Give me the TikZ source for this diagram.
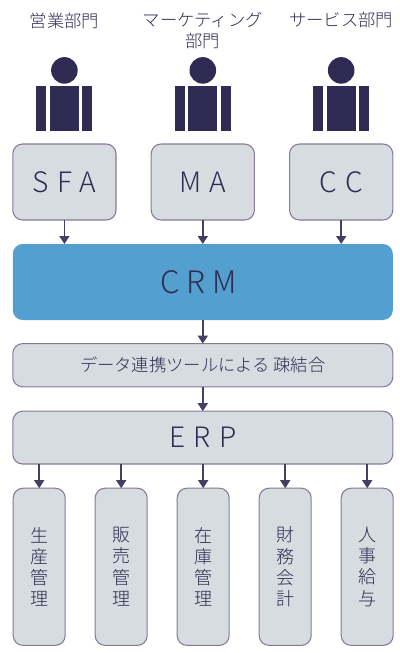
\documentclass[tikz,border=0pt]{standalone}
\usepackage{fontspec}
\usepackage{xcolor}
\usetikzlibrary{arrows.meta,positioning}
\setmainfont{Noto Sans CJK JP Light}
\newfontfamily\widefont[LetterSpace=30]{Noto Sans CJK JP Light}
\newfontfamily\crmfont[LetterSpace=22]{Noto Sans CJK JP Light}
\definecolor{sysink}{RGB}{47,43,82}
\definecolor{sysfill}{RGB}{214,220,224}
\definecolor{sysedge}{RGB}{133,121,154}
\definecolor{crmblue}{RGB}{82,159,208}

\begin{document}
\begin{tikzpicture}[
    sysbox/.style={draw=sysedge, line width=0.75pt, fill=sysfill, rounded corners=7pt, align=center, text=sysink, inner sep=0pt, outer sep=0pt},
    channel/.style={sysbox, minimum width=2.58cm, minimum height=1.9cm, font=\fontsize{20}{24}\widefont},
    wide/.style={sysbox, minimum width=9.5cm},
    module/.style={sysbox, minimum width=1.3cm, minimum height=3.93cm, font=\fontsize{12.8}{15.1}\selectfont},
    dept/.style={align=center, text=sysink, inner sep=0pt, font=\fontsize{12.3}{15}\selectfont},
    head/.style={circle, fill=sysink, minimum size=0.665cm, inner sep=0pt},
    arm/.style={fill=sysink, minimum width=0.25cm, minimum height=1.125cm, inner sep=0pt},
    torso/.style={fill=sysink, minimum width=0.73cm, minimum height=1.125cm, inner sep=0pt},
    flow/.style={-{Triangle[length=2mm, width=2.5mm]}, line width=1.05pt, sysink!90!white},
]
    \useasboundingbox (0,0) rectangle (10,-16.325);

    \node[dept] (salesdept) at (1.61,-0.52) {営業部門};
    \node[dept] (mktdept) at (5.07,-0.77) {マーケティング\\部門};
    \node[dept] (ccdept) at (8.53,-0.5) {サービス部門};

    \node[head] (head1) at (1.61,-1.76) {};
    \node[arm] (larm1) at (1.03,-2.71) {};
    \node[torso] (body1) at (1.61,-2.71) {};
    \node[arm] (rarm1) at (2.18,-2.71) {};
    \node[head] (head2) at (5.07,-1.76) {};
    \node[arm] (larm2) at (4.5,-2.71) {};
    \node[torso] (body2) at (5.07,-2.71) {};
    \node[arm] (rarm2) at (5.65,-2.71) {};
    \node[head] (head3) at (8.53,-1.76) {};
    \node[arm] (larm3) at (7.96,-2.71) {};
    \node[torso] (body3) at (8.53,-2.71) {};
    \node[arm] (rarm3) at (9.11,-2.71) {};

    \node[channel] (sfa) at (1.61,-4.55) {SFA};
    \node[channel] (ma) at (5.07,-4.55) {MA};
    \node[channel] (cc) at (8.53,-4.55) {CC};

    \node[wide, draw=none, fill=crmblue, minimum height=1.9cm, font=\fontsize{22}{26}\crmfont] (crm) at (5.07,-7.05) {CRM\hspace*{0.22cm}};
    \node[wide, minimum height=1.08cm, font=\fontsize{12.3}{15}\selectfont] (link) at (5.07,-9.13) {データ連携ツールによる 疎結合};
    \node[wide, minimum height=1.32cm, font=\fontsize{20}{24}\widefont] (erp) at (5.07,-10.94) {ERP};

    \node[module] (prod) at (0.98,-14.17) {生\\産\\管\\理};
    \node[module] (sale) at (3.03,-14.17) {販\\売\\管\\理};
    \node[module] (stock) at (5.08,-14.17) {在\\庫\\管\\理};
    \node[module] (fin) at (7.13,-14.17) {財\\務\\会\\計};
    \node[module] (hr) at (9.18,-14.17) {人\\事\\給\\与};

    \draw[flow] (sfa) -- (sfa |- crm.north);
    \draw[flow] (ma) -- (ma |- crm.north);
    \draw[flow] (cc) -- (cc |- crm.north);
    \draw[flow] (crm) -- (link);
    \draw[flow] (link) -- (erp);
    \draw[flow] (prod |- erp.south) -- (prod);
    \draw[flow] (sale |- erp.south) -- (sale);
    \draw[flow] (stock |- erp.south) -- (stock);
    \draw[flow] (fin |- erp.south) -- (fin);
    \draw[flow] (hr |- erp.south) -- (hr);
\end{tikzpicture}
\end{document}
